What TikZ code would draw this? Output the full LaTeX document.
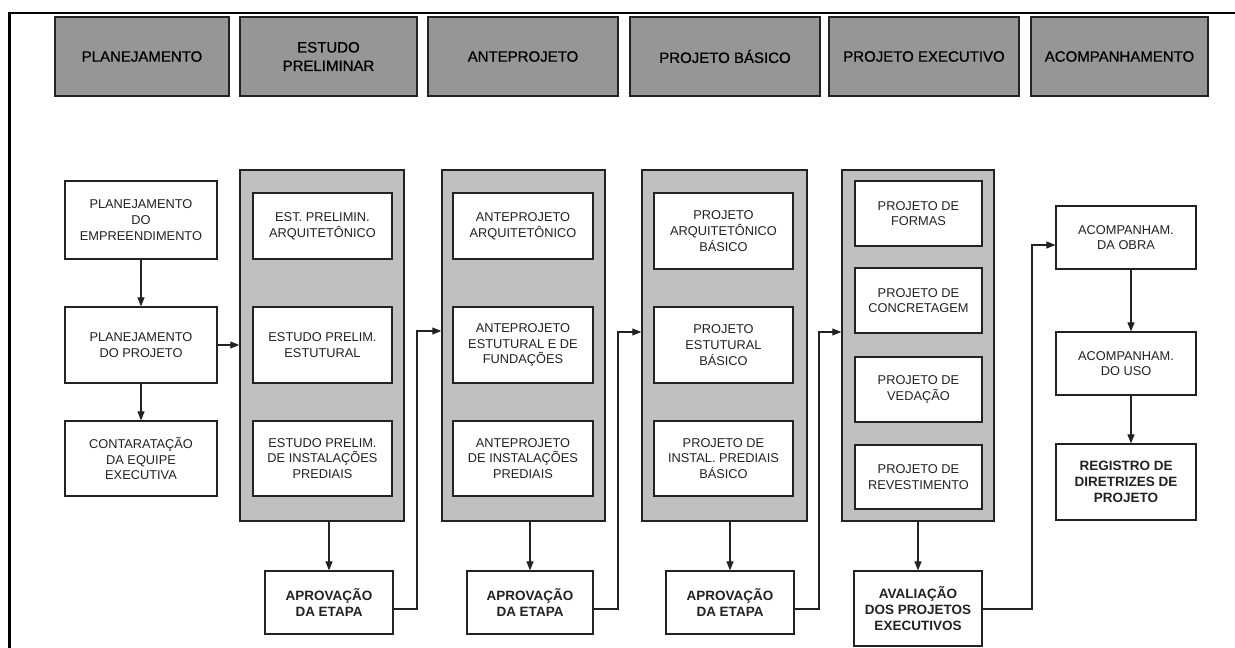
\documentclass[tikz,border=0pt]{standalone}
\usepackage{fontspec}
\setmainfont{Liberation Sans}
\newfontfamily\hdrfont[BoldFont={Liberation Sans}, BoldFeatures={FakeBold=0.7}]{Liberation Sans}
\usetikzlibrary{arrows.meta}
\definecolor{hdrgray}{HTML}{969696}
\definecolor{colgray}{HTML}{C0C0C0}
\definecolor{ink}{HTML}{222222}
\begin{document}
\begin{tikzpicture}[x=1pt,y=-1pt,
  hdr/.style={draw=ink, fill=hdrgray, line width=1.2pt, inner sep=0pt, align=center, text=black,
    font=\hdrfont\bfseries\fontsize{15}{18.5}\selectfont},
  box/.style={draw=ink, fill=white, line width=1.2pt, inner sep=0pt, align=center, text=ink,
    font=\fontsize{12.8}{15.7}\selectfont},
  bbox/.style={box, font=\bfseries\fontsize{13.5}{16}\selectfont},
  colbox/.style={draw=ink, fill=colgray, line width=1.5pt, inner sep=0pt},
  arr/.style={-{Triangle[length=9pt,width=7pt]}, line width=1.1pt, draw=ink},
  frame/.style={line width=2.2pt, draw=black}]
\useasboundingbox (0,0) rectangle (1235,648);
\fill[white] (0,0) rectangle (1235,648);
\draw[frame] (9.5,648) -- (9.5,13) -- (1235,13);

% headers
\node[hdr, minimum width=174pt, minimum height=79pt] (h1) at (142,56.5) {PLANEJAMENTO};
\node[hdr, minimum width=177pt, minimum height=79pt] (h2) at (328.5,56.5) {ESTUDO\\PRELIMINAR};
\node[hdr, minimum width=190pt, minimum height=79pt] (h3) at (523,56.5) {ANTEPROJETO};
\node[hdr, minimum width=190pt, minimum height=79pt] (h4) at (725,56.5) {PROJETO BÁSICO};
\node[hdr, minimum width=190pt, minimum height=79pt] (h5) at (924,56.5) {PROJETO EXECUTIVO};
\node[hdr, minimum width=177pt, minimum height=79pt] (h6) at (1119.5,56.5) {ACOMPANHAMENTO};

% planning column
\node[box, minimum width=152pt, minimum height=78pt] (p1) at (141,220) {PLANEJAMENTO\\DO\\EMPREENDIMENTO};
\node[box, minimum width=152pt, minimum height=76pt] (p2) at (141,345) {PLANEJAMENTO\\DO PROJETO};
\node[box, minimum width=152pt, minimum height=75pt] (p3) at (141,458.5) {CONTARATAÇÃO\\DA EQUIPE\\EXECUTIVA};

% gray columns
\node[colbox, minimum width=164pt, minimum height=351pt] (col1) at (322,345.5) {};
\node[colbox, minimum width=163pt, minimum height=351pt] (col2) at (523.5,345.5) {};
\node[colbox, minimum width=165pt, minimum height=351pt] (col3) at (724.5,345.5) {};
\node[colbox, minimum width=152pt, minimum height=351pt] (col4) at (918,345.5) {};

% column 1
\node[box, minimum width=139pt, minimum height=66pt] (a1) at (322.5,226) {EST. PRELIMIN.\\ARQUITETÔNICO};
\node[box, minimum width=139pt, minimum height=76pt] (a2) at (322.5,345) {ESTUDO PRELIM.\\ESTUTURAL};
\node[box, minimum width=139pt, minimum height=75pt] (a3) at (322.5,458.5) {ESTUDO PRELIM.\\DE INSTALAÇÕES\\PREDIAIS};

% column 2
\node[box, minimum width=140pt, minimum height=66pt] (b1) at (523,226) {ANTEPROJETO\\ARQUITETÔNICO};
\node[box, minimum width=140pt, minimum height=76pt] (b2) at (523,345) {ANTEPROJETO\\ESTUTURAL E DE\\FUNDAÇÕES};
\node[box, minimum width=140pt, minimum height=75pt] (b3) at (523,458.5) {ANTEPROJETO\\DE INSTALAÇÕES\\PREDIAIS};

% column 3
\node[box, minimum width=139pt, minimum height=76pt] (c1) at (723.5,231) {PROJETO\\ARQUITETÔNICO\\BÁSICO};
\node[box, minimum width=139pt, minimum height=76pt] (c2) at (723.5,345) {PROJETO\\ESTUTURAL\\BÁSICO};
\node[box, minimum width=139pt, minimum height=75pt] (c3) at (723.5,458.5) {PROJETO DE\\INSTAL. PREDIAIS\\BÁSICO};

% column 4
\node[box, minimum width=127pt, minimum height=65pt] (d1) at (918.5,213.5) {PROJETO DE\\FORMAS};
\node[box, minimum width=127pt, minimum height=65pt] (d2) at (918.5,300.5) {PROJETO DE\\CONCRETAGEM};
\node[box, minimum width=127pt, minimum height=65pt] (d3) at (918.5,389.5) {PROJETO DE\\VEDAÇÃO};
\node[box, minimum width=127pt, minimum height=64pt] (d4) at (918.5,477) {PROJETO DE\\REVESTIMENTO};

% follow-up column
\node[box, minimum width=140pt, minimum height=63pt] (r1) at (1126,237.5) {ACOMPANHAM.\\DA OBRA};
\node[box, minimum width=140pt, minimum height=63pt] (r2) at (1126,363.5) {ACOMPANHAM.\\DO USO};
\node[bbox, minimum width=140pt, minimum height=76pt] (r3) at (1126,482) {REGISTRO DE\\DIRETRIZES DE\\PROJETO};

% approvals
\node[bbox, minimum width=128pt, minimum height=63pt] (ap1) at (329,602.5) {APROVAÇÃO\\DA ETAPA};
\node[bbox, minimum width=126pt, minimum height=63pt] (ap2) at (530,602.5) {APROVAÇÃO\\DA ETAPA};
\node[bbox, minimum width=128pt, minimum height=63pt] (ap3) at (730,602.5) {APROVAÇÃO\\DA ETAPA};
\node[bbox, minimum width=128pt, minimum height=75pt] (av) at (918,608.5) {AVALIAÇÃO\\DOS PROJETOS\\EXECUTIVOS};

% connectors
\draw[arr] (p1.south) -- (p2.north);
\draw[arr] (p2.south) -- (p3.north);
\draw[arr] (p2.east) -- (p2.east -| col1.west);

\draw[arr] (col1.south -| ap1.north) -- (ap1.north);
\draw[arr] (col2.south -| ap2.north) -- (ap2.north);
\draw[arr] (col3.south -| ap3.north) -- (ap3.north);
\draw[arr] (col4.south -| av.north) -- (av.north);

\coordinate (t1) at (417,609); \coordinate (u1) at (417,331);
\coordinate (t2) at (618,609); \coordinate (u2) at (618,332);
\coordinate (t3) at (819,609); \coordinate (u3) at (819,332);
\coordinate (t4) at (1032,609); \coordinate (u4) at (1032,245);
\draw[arr] (ap1.east |- t1) -- (t1) -- (u1) -- (u1 -| col2.west);
\draw[arr] (ap2.east |- t2) -- (t2) -- (u2) -- (u2 -| col3.west);
\draw[arr] (ap3.east |- t3) -- (t3) -- (u3) -- (u3 -| col4.west);
\draw[arr] (av.east |- t4) -- (t4) -- (u4) -- (u4 -| r1.west);

\coordinate (rx) at (1131,0);
\draw[arr] (r1.south -| rx) -- (r2.north -| rx);
\draw[arr] (r2.south -| rx) -- (r3.north -| rx);
\end{tikzpicture}
\end{document}
